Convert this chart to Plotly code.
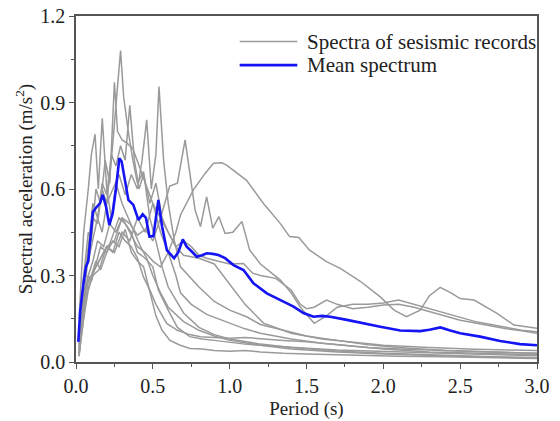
import plotly.graph_objects as go

# ---------------- data ----------------
period_mean = [0.015, 0.028, 0.048, 0.065, 0.08, 0.095, 0.11, 0.13, 0.156, 0.174, 0.195, 0.217,
               0.239, 0.26, 0.282, 0.297, 0.32, 0.341, 0.373, 0.406, 0.434, 0.455, 0.478, 0.504,
               0.52, 0.536, 0.56, 0.591, 0.638, 0.665, 0.695, 0.72, 0.75, 0.786, 0.82, 0.851,
               0.89, 0.927, 0.97, 1.025, 1.09, 1.155, 1.242, 1.33, 1.416, 1.48, 1.546, 1.6,
               1.655, 1.763, 1.894, 1.98, 2.11, 2.24, 2.3, 2.371, 2.43, 2.5, 2.63, 2.76, 2.89, 3.0]
sa_mean = [0.07, 0.18, 0.27, 0.33, 0.35, 0.45, 0.52, 0.535, 0.55, 0.58, 0.54, 0.475,
           0.516, 0.6, 0.707, 0.695, 0.62, 0.562, 0.545, 0.493, 0.512, 0.5, 0.435, 0.437,
           0.5, 0.562, 0.47, 0.388, 0.36, 0.38, 0.425, 0.4, 0.385, 0.365, 0.37, 0.377,
           0.375, 0.371, 0.36, 0.336, 0.319, 0.273, 0.238, 0.215, 0.192, 0.17, 0.157, 0.16,
           0.157, 0.146, 0.131, 0.122, 0.109, 0.107, 0.112, 0.12, 0.11, 0.1, 0.088, 0.073, 0.062, 0.058]

rec1_t = [0.02, 0.05, 0.08, 0.11, 0.14, 0.17, 0.2, 0.23, 0.26, 0.29, 0.31, 0.34, 0.37, 0.4, 0.44,
          0.48, 0.52, 0.56, 0.6, 0.7, 0.8, 0.9, 1.0, 1.2, 1.4, 1.7, 2.0, 2.4, 2.7, 3.0]
rec1_sa = [0.03, 0.22, 0.38, 0.5, 0.48, 0.6, 0.55, 0.7, 0.9, 1.08, 0.92, 0.8, 0.7, 0.62, 0.66,
           0.5, 0.42, 0.33, 0.26, 0.17, 0.12, 0.095, 0.08, 0.062, 0.05, 0.038, 0.03, 0.022, 0.018, 0.015]

rec2_t = [0.02, 0.05, 0.08, 0.1, 0.13, 0.16, 0.19, 0.22, 0.25, 0.27, 0.3, 0.33, 0.37, 0.41, 0.45,
          0.5, 0.55, 0.6, 0.65, 0.68, 0.75, 0.85, 1.0, 1.1, 1.2, 1.4, 1.6, 1.8, 2.0, 2.3, 2.6, 3.0]
rec2_sa = [0.05, 0.3, 0.45, 0.42, 0.6, 0.55, 0.7, 0.62, 0.97, 0.8, 0.77, 0.76, 0.74, 0.68, 0.62,
           0.55, 0.45, 0.38, 0.3, 0.24, 0.2, 0.165, 0.135, 0.115, 0.1, 0.08, 0.065, 0.055, 0.045, 0.035, 0.03, 0.025]

rec3_t = [0.02, 0.05, 0.08, 0.11, 0.14, 0.17, 0.2, 0.24, 0.28, 0.32, 0.36, 0.4, 0.43, 0.46, 0.49,
          0.52, 0.54, 0.57, 0.6, 0.64, 0.68, 0.8, 0.9, 1.0, 1.11, 1.2, 1.35, 1.5, 1.7, 1.9, 2.1,
          2.4, 2.7, 3.0]
rec3_sa = [0.1, 0.3, 0.35, 0.42, 0.5, 0.45, 0.55, 0.6, 0.65, 0.58, 0.65, 0.6, 0.7, 0.84, 0.6,
           0.72, 0.955, 0.7, 0.55, 0.42, 0.33, 0.26, 0.21, 0.18, 0.157, 0.13, 0.11, 0.09, 0.075,
           0.06, 0.05, 0.04, 0.035, 0.03]

rec4_t = [0.02, 0.05, 0.08, 0.11, 0.14, 0.18, 0.22, 0.26, 0.3, 0.35, 0.4, 0.45, 0.5, 0.55, 0.61,
          0.66, 0.71, 0.775, 0.81, 0.85, 0.89, 0.93, 0.97, 1.02, 1.08, 1.13, 1.2, 1.33, 1.4, 1.46,
          1.55, 1.63, 1.7, 1.8, 1.9, 2.0, 2.1, 2.2, 2.3, 2.4, 2.5, 2.6, 2.7, 2.8, 2.9, 3.0]
rec4_sa = [0.04, 0.2, 0.3, 0.35, 0.42, 0.4, 0.48, 0.45, 0.5, 0.48, 0.44, 0.46, 0.42, 0.5, 0.61,
           0.62, 0.77, 0.527, 0.47, 0.573, 0.464, 0.504, 0.446, 0.45, 0.487, 0.389, 0.34, 0.284,
           0.24, 0.19, 0.134, 0.16, 0.19, 0.2, 0.2, 0.205, 0.215, 0.2, 0.185, 0.17, 0.155, 0.14,
           0.13, 0.12, 0.11, 0.105]

rec5_t = [0.02, 0.05, 0.08, 0.11, 0.15, 0.2, 0.25, 0.3, 0.35, 0.4, 0.45, 0.5, 0.55, 0.6, 0.65,
          0.68, 0.764, 0.84, 0.895, 0.949, 0.98, 1.11, 1.22, 1.33, 1.39, 1.45, 1.52, 1.63, 1.72,
          1.85, 1.98, 2.07, 2.15, 2.24, 2.3, 2.37, 2.44, 2.5, 2.59, 2.74, 2.85, 3.0]
rec5_sa = [0.03, 0.15, 0.25, 0.3, 0.32, 0.4, 0.42, 0.5, 0.45, 0.4, 0.38, 0.35, 0.33, 0.38, 0.45,
           0.51, 0.597, 0.654, 0.689, 0.691, 0.683, 0.63, 0.55, 0.48, 0.435, 0.432, 0.388, 0.348,
           0.325, 0.28, 0.226, 0.18, 0.157, 0.18, 0.23, 0.259, 0.24, 0.22, 0.215, 0.169, 0.128, 0.117]

rec6_t = [0.02, 0.05, 0.08, 0.1, 0.124, 0.145, 0.171, 0.2, 0.23, 0.26, 0.3, 0.34, 0.38, 0.42,
          0.46, 0.5, 0.55, 0.6, 0.7, 0.8, 0.9, 1.0, 1.2, 1.4, 1.7, 2.0, 2.5, 3.0]
rec6_sa = [0.15, 0.45, 0.6, 0.72, 0.79, 0.6, 0.845, 0.6, 0.5, 0.62, 0.55, 0.5, 0.45, 0.4,
           0.36, 0.3, 0.24, 0.19, 0.14, 0.11, 0.09, 0.075, 0.058, 0.045, 0.035, 0.028, 0.02, 0.015]

rec7_t = [0.02, 0.05, 0.08, 0.11, 0.14, 0.17, 0.2, 0.23, 0.26, 0.29, 0.32, 0.35, 0.38, 0.41,
          0.44, 0.48, 0.52, 0.56, 0.6, 0.65, 0.7, 0.8, 0.9, 1.0, 1.1, 1.22, 1.4, 1.6, 1.8, 2.0,
          2.3, 2.6, 3.0]
rec7_sa = [0.06, 0.28, 0.4, 0.55, 0.5, 0.62, 0.58, 0.72, 0.68, 0.75, 0.7, 0.89, 0.7, 0.6,
           0.65, 0.55, 0.62, 0.5, 0.45, 0.4, 0.37, 0.36, 0.34, 0.27, 0.2, 0.135, 0.1, 0.08, 0.068,
           0.058, 0.05, 0.044, 0.04]

rec8_t = [0.02, 0.05, 0.1, 0.15, 0.2, 0.25, 0.3, 0.35, 0.4, 0.45, 0.5, 0.55, 0.6, 0.65, 0.7,
          0.75, 0.8, 0.85, 0.92, 1.0, 1.09, 1.15, 1.2, 1.3, 1.4, 1.46, 1.5, 1.55, 1.63, 1.7, 1.8,
          1.9, 2.0, 2.1, 2.2, 2.3, 2.4, 2.5, 2.6, 2.7, 2.8, 2.9, 3.0]
rec8_sa = [0.08, 0.25, 0.3, 0.35, 0.4, 0.38, 0.45, 0.42, 0.5, 0.45, 0.55, 0.5, 0.45, 0.4, 0.42,
           0.4, 0.37, 0.36, 0.35, 0.34, 0.342, 0.308, 0.3, 0.29, 0.25, 0.2, 0.185, 0.19, 0.215,
           0.2, 0.185, 0.19, 0.198, 0.2, 0.19, 0.175, 0.16, 0.145, 0.135, 0.125, 0.115, 0.108, 0.1]

rec9_t = [0.02, 0.04, 0.06, 0.08, 0.1, 0.13, 0.16, 0.2, 0.24, 0.28, 0.32, 0.36, 0.4, 0.438,
          0.48, 0.52, 0.59, 0.66, 0.74, 0.81, 0.9, 1.0, 1.1, 1.2, 1.35, 1.5, 1.7, 1.9, 2.1, 2.4,
          2.7, 3.0]
rec9_sa = [0.02, 0.15, 0.22, 0.25, 0.3, 0.33, 0.36, 0.4, 0.38, 0.45, 0.42, 0.4, 0.36, 0.296,
           0.25, 0.2, 0.134, 0.11, 0.095, 0.088, 0.085, 0.082, 0.085, 0.08, 0.075, 0.07, 0.06,
           0.05, 0.045, 0.04, 0.035, 0.03]

rec10_t = [0.02, 0.04, 0.06, 0.08, 0.1, 0.13, 0.16, 0.2, 0.24, 0.28, 0.32, 0.36, 0.4, 0.44,
           0.48, 0.52, 0.56, 0.61, 0.67, 0.74, 0.82, 0.9, 1.0, 1.1, 1.2, 1.35, 1.5, 1.7, 1.9,
           2.1, 2.4, 2.7, 3.0]
rec10_sa = [0.02, 0.12, 0.2, 0.28, 0.3, 0.35, 0.32, 0.38, 0.42, 0.4, 0.46, 0.38, 0.35, 0.33,
            0.244, 0.16, 0.11, 0.076, 0.06, 0.047, 0.045, 0.04, 0.037, 0.04, 0.035, 0.03, 0.028,
            0.025, 0.022, 0.02, 0.018, 0.015, 0.012]

rec11_t = [0.02, 0.04, 0.06, 0.08, 0.1, 0.13, 0.16, 0.2, 0.24, 0.28, 0.32, 0.36, 0.4, 0.45,
           0.5, 0.536, 0.6, 0.66, 0.74, 0.82, 0.9, 1.0, 1.1, 1.2, 1.35, 1.5, 1.7, 1.9, 2.1, 2.4,
           2.7, 3.0]
rec11_sa = [0.03, 0.18, 0.25, 0.3, 0.28, 0.34, 0.4, 0.38, 0.44, 0.5, 0.48, 0.45, 0.38, 0.36,
            0.33, 0.25, 0.18, 0.12, 0.088, 0.08, 0.075, 0.068, 0.062, 0.058, 0.052, 0.048, 0.042,
            0.038, 0.034, 0.03, 0.026, 0.022]

records = [
    (rec1_t, rec1_sa), (rec2_t, rec2_sa), (rec3_t, rec3_sa), (rec4_t, rec4_sa),
    (rec5_t, rec5_sa), (rec6_t, rec6_sa), (rec7_t, rec7_sa), (rec8_t, rec8_sa),
    (rec9_t, rec9_sa), (rec10_t, rec10_sa), (rec11_t, rec11_sa),
]

x_ticks = [0.0, 0.5, 1.0, 1.5, 2.0, 2.5, 3.0]
x_ticklabels = ["0.0", "0.5", "1.0", "1.5", "2.0", "2.5", "3.0"]
y_ticks = [0.0, 0.3, 0.6, 0.9, 1.2]
y_ticklabels = ["0.0", "0.3", "0.6", "0.9", "1.2"]

legend_labels = ["Spectra of sesismic records", "Mean spectrum"]

# ---------------- figure ----------------
GRAY = "#9a9a9a"
BLUE = "#1414f5"
FONT = "Liberation Serif"

fig = go.Figure()
for i, (t, sa) in enumerate(records):
    fig.add_trace(go.Scatter(x=t, y=sa, mode="lines", name=legend_labels[0],
                             line=dict(color=GRAY, width=1.5), showlegend=False,
                             hoverinfo="skip"))
fig.add_trace(go.Scatter(x=period_mean, y=sa_mean, mode="lines", name=legend_labels[1],
                         line=dict(color=BLUE, width=2.6), showlegend=False))

axis_common = dict(showgrid=False, zeroline=False, showline=True, mirror=True,
                   linecolor="#555555", linewidth=1.5, ticks="outside", tickwidth=1.3,
                   tickcolor="#555555", ticklen=5, automargin=False,
                   tickfont=dict(family=FONT, size=20, color="#222222"))

fig.update_xaxes(range=[0, 3.0], tickvals=x_ticks, ticktext=x_ticklabels,
                 minor=dict(ticks="outside", ticklen=3, tickwidth=1.2, tickcolor="#555555",
                            dtick=0.25, showgrid=False),
                 title=dict(text="Period (s)", font=dict(family=FONT, size=19, color="#222222"),
                            standoff=6),
                 **axis_common)
fig.update_yaxes(range=[0, 1.2], tickvals=y_ticks, ticktext=y_ticklabels,
                 minor=dict(ticks="outside", ticklen=3, tickwidth=1.2, tickcolor="#555555",
                            dtick=0.15, showgrid=False),
                 title=dict(text="Spectral acceleration (m/s<sup>2</sup>)",
                            font=dict(family=FONT, size=19, color="#222222"), standoff=3),
                 **axis_common)

# legend drawn in the upper right corner of the plot area
leg_x0, leg_x1 = 0.355, 0.48
leg_rows = [0.926, 0.858]
leg_colors = [GRAY, BLUE]
leg_widths = [1.5, 2.6]
for label, yy, col, w in zip(legend_labels, leg_rows, leg_colors, leg_widths):
    fig.add_shape(type="line", xref="paper", yref="paper", x0=leg_x0, x1=leg_x1, y0=yy, y1=yy,
                  line=dict(color=col, width=w))
    fig.add_annotation(xref="paper", yref="paper", x=leg_x1 + 0.016, y=yy, text=label,
                       showarrow=False, xanchor="left", yanchor="middle",
                       font=dict(family=FONT, size=21, color="#222222"))

fig.update_layout(width=560, height=421, margin=dict(l=76, r=23, t=16, b=59, autoexpand=False),
                  plot_bgcolor="white", paper_bgcolor="white", showlegend=False,
                  font=dict(family=FONT))

fig.write_html("out.html", config={"displayModeBar": False},
               post_script="document.body.style.margin='0';document.body.style.overflow='hidden';")
